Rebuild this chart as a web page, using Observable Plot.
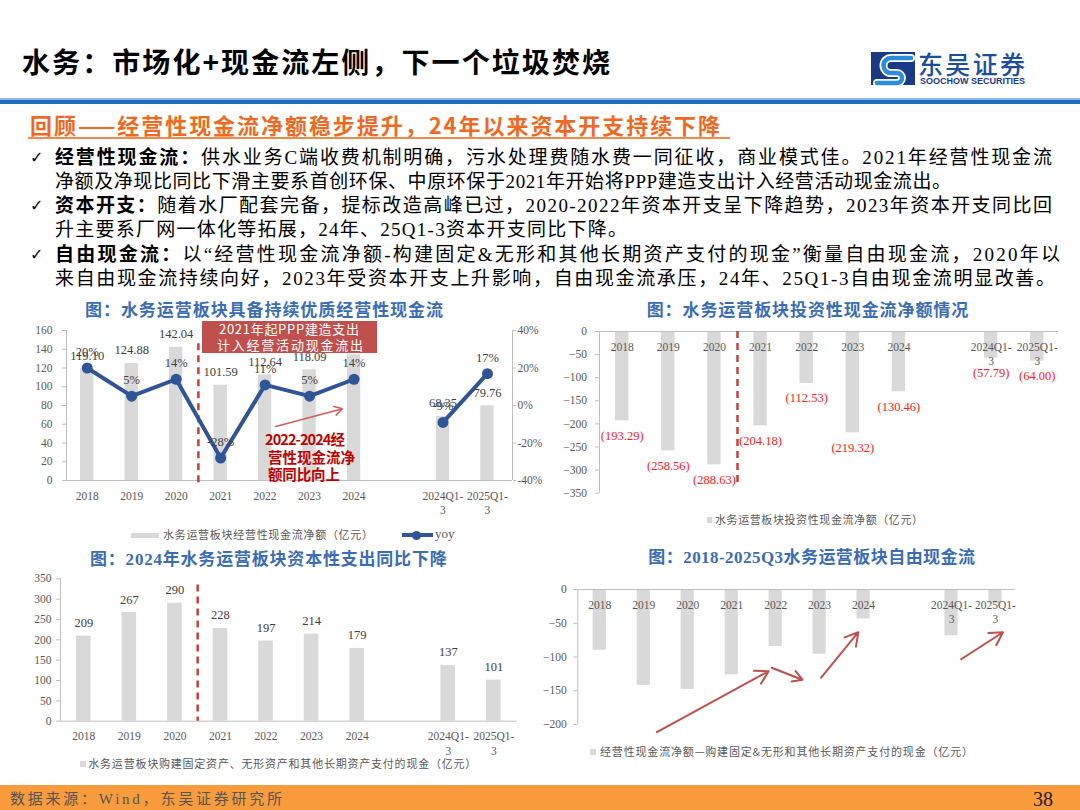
<!DOCTYPE html>
<html><head><meta charset="utf-8">
<script src="https://cdn.jsdelivr.net/npm/d3@7"></script>
<script src="https://cdn.jsdelivr.net/npm/@observablehq/plot@0.6"></script>
<style>
body{margin:0;background:#fff}
#slide{position:relative;width:1080px;height:810px;overflow:hidden;background:#fff;font-family:"Liberation Serif","Noto Sans CJK SC",serif}
.abs{position:absolute;white-space:nowrap;left:0;top:0;line-height:1.2}
.chart{position:absolute}
.chart svg{overflow:visible}
</style></head><body><div id="slide"></div>
<script>
// ---------- data ----------
const categories = ["2018","2019","2020","2021","2022","2023","2024","","2024Q1-3","2025Q1-3"];
const splitAfter = "2020";
const operatingCF = [119.10,124.88,142.04,101.59,112.64,118.09,134.20,null,68.35,79.76];
const operatingYoY = [20,5,14,-28,11,5,14,null,-9,17];
const investingCF = [-193.29,-258.56,-288.63,-204.18,-112.53,-219.32,-130.46,null,-57.79,-64.00];
const capex = [209,267,290,228,197,214,179,null,137,101];
const freeCF = [-89.9,-142.1,-148.0,-126.4,-84.4,-95.9,-43.5,null,-68.4,-21.2];

const cfTicks1 = [0,20,40,60,80,100,120,140,160];
const pctTicks1 = [-40,-20,0,20,40];
const icfTicks = [0,-50,-100,-150,-200,-250,-300,-350];
const capexTicks = [0,50,100,150,200,250,300,350];
const fcfTicks = [0,-50,-100,-150,-200];

// annotation arrows (category index, value)
const trendArrow1 = [{x1:4.24,y1:57.6,x2:5.74,y2:76.5}];
const fcfArrows = [
  {x1:1.30,y1:-211.4,x2:3.84,y2:-121.0},
  {x1:3.91,y1:-115.9,x2:4.61,y2:-133.7},
  {x1:5.03,y1:-130.8,x2:5.88,y2:-63.3},
  {x1:8.22,y1:-103.3,x2:9.17,y2:-63.3}
];

// ---------- helpers ----------
const slide = document.getElementById("slide");
function fitText(html,{x,y,w,size,weight=400,color="#000",family,anchor="start"}){
  const el=document.createElement("div");
  el.className="abs";
  el.style.fontSize=size+"px";el.style.fontWeight=weight;el.style.color=color;
  if(family) el.style.fontFamily=family;
  el.innerHTML=html;
  slide.appendChild(el);
  const n=Array.from(el.textContent).length;
  const nat=el.getBoundingClientRect().width;
  if(w&&n>1){el.style.letterSpacing=((w-nat)/(n-1))+"px";}
  const h=el.getBoundingClientRect().height;
  const width=w||nat;
  el.style.left=(anchor==="middle"?x-width/2:x)+"px";
  el.style.top=(y-h/2)+"px";
  return el;
}
function box(x,y,w,h,bg,extra=""){
  const d=document.createElement("div");
  d.style.cssText=`position:absolute;left:${x}px;top:${y}px;width:${w}px;height:${h}px;background:${bg};${extra}`;
  slide.appendChild(d);return d;
}
function place(svg,x,y){
  const d=document.createElement("div");d.className="chart";
  d.style.left=x+"px";d.style.top=y+"px";d.appendChild(svg);slide.appendChild(d);
}
const rowsOf = vals => categories.map((c,i)=>({i,c,label:c.replace("Q1-3","Q1-\n3"),v:vals[i]}));
const split = categories.indexOf(splitAfter)+0.5;
const serif = '"Liberation Serif",serif';
const cjk = '"Noto Sans CJK SC",sans-serif';
const mixed = '"Liberation Serif","Noto Sans CJK SC",serif';
const axisGray="#bfbfbf", tickText="#595959", barGray="#d9d9d9";
const baseStyle={fontFamily:serif,fontSize:"11.5px",color:tickText,background:"transparent",overflow:"visible"};
const xLabels = rows => Plot.text(rows.filter(d=>d.c),{x:"i",y:0,text:"label",lineAnchor:"top",dy:9,fontSize:11.5,fill:tickText,lineHeight:1.25});

// ---------- header ----------
fitText("水务：市场化+现金流左侧，下一个垃圾焚烧",{x:22,y:62,w:588,size:28,weight:700,color:"#000",family:cjk});
// logo
const logo=document.createElement("div");
logo.style.cssText="position:absolute;left:871px;top:52px;width:46px;height:34px";
logo.innerHTML=`<svg width="46" height="34" viewBox="0 0 46 34">
<rect x="0" y="0" width="44" height="33" fill="#1b3a86"/>
<path d="M40 6 L20 6 A7.5 7.5 0 0 0 20 21 L26 21 A5 5 0 0 1 26 31 L6 31" fill="none" stroke="#fff" stroke-width="8" stroke-linecap="round"/>
<path d="M40 6 L20 6 A7.5 7.5 0 0 0 20 21 L26 21 A5 5 0 0 1 26 31 L6 31" fill="none" stroke="#2b8ddb" stroke-width="4.5" stroke-linecap="round"/>
</svg>`;
slide.appendChild(logo);
fitText("东吴证券",{x:918,y:63,w:107,size:25,weight:500,color:"#1b4f9c",family:cjk});
fitText("SOOCHOW SECURITIES",{x:920,y:81.5,w:105,size:9,weight:700,color:"#1b3a86",family:'"Liberation Sans",sans-serif'});
box(0,98,1080,2,"#8dbbe6");
box(0,100,1080,4,"#1f6fc0");

// subtitle
fitText("回顾——经营性现金流净额稳步提升，24年以来资本开支持续下降",{x:30,y:124,w:692,size:22,weight:700,color:"#ee6a24",family:cjk});
box(28,137,702,1.5,"#f08a4b");

// bullets
const bullets=[
  {y:158,w:997,chk:true,html:"<b>经营性现金流：</b>供水业务C端收费机制明确，污水处理费随水费一同征收，商业模式佳。2021年经营性现金流"},
  {y:182,w:896,html:"净额及净现比同比下滑主要系首创环保、中原环保于2021年开始将PPP建造支出计入经营活动现金流出。"},
  {y:206,w:997,chk:true,html:"<b>资本开支：</b>随着水厂配套完备，提标改造高峰已过，2020-2022年资本开支呈下降趋势，2023年资本开支同比回"},
  {y:230.5,w:572,html:"升主要系厂网一体化等拓展，24年、25Q1-3资本开支同比下降。"},
  {y:255,w:1005,chk:true,html:"<b>自由现金流：</b>以“经营性现金流净额-构建固定&amp;无形和其他长期资产支付的现金”衡量自由现金流，2020年以"},
  {y:279,w:1000,html:"来自由现金流持续向好，2023年受资本开支上升影响，自由现金流承压，24年、25Q1-3自由现金流明显改善。"}
];
bullets.forEach(b=>{
  if(b.chk) fitText("✓",{x:30,y:b.y,size:16,weight:700,color:"#000",family:'"DejaVu Sans",sans-serif'});
  fitText(b.html,{x:55,y:b.y,w:b.w,size:19,color:"#000",family:mixed});
});

// ---------- chart 1 ----------
fitText("图：水务运营板块具备持续优质经营性现金流",{x:85,y:311.5,w:358,size:17,weight:700,color:"#3a6db5",family:mixed});
{
  const rows=categories.map((c,i)=>({i,c,label:c.replace("Q1-3","Q1-\n3"),v:operatingCF[i],p:operatingYoY[i]}));
  const cfDom=[0,160], pctDom=[-40,40];
  const toLeft=p=>p==null?NaN:(p-pctDom[0])/(pctDom[1]-pctDom[0])*(cfDom[1]-cfDom[0])+cfDom[0];
  const fromLeft=v=>(v-cfDom[0])/(cfDom[1]-cfDom[0])*(pctDom[1]-pctDom[0])+pctDom[0];
  const xDom=[-0.466,9.563];
  const bars=rows.filter(d=>d.v!=null), pts=rows.filter(d=>d.p!=null);
  const svg=Plot.plot({
    width:500,height:200,marginLeft:36,marginRight:18,marginTop:10,marginBottom:40,
    style:baseStyle,
    x:{type:"linear",domain:xDom,axis:null},
    y:{domain:cfDom},
    marks:[
      Plot.ruleY([0],{stroke:axisGray}),
      Plot.ruleX([xDom[0],xDom[1]],{stroke:axisGray}),
      Plot.axisY({ticks:cfTicks1,tickSize:4,tickPadding:10,stroke:axisGray,fill:tickText,label:null}),
      Plot.axisY({anchor:"right",ticks:pctTicks1.map(toLeft),tickFormat:v=>Math.round(fromLeft(v))+"%",tickSize:3,tickPadding:2,stroke:axisGray,fill:tickText,label:null}),
      Plot.rectY(bars,{x1:d=>d.i-0.15,x2:d=>d.i+0.15,y1:0,y2:"v",fill:barGray}),
      Plot.text(bars,{x:"i",y:"v",text:d=>d.v.toFixed(2),dy:-13,fontSize:12.5,fill:"#404040"}),
      Plot.ruleX([split],{y1:146,y2:-7.5,stroke:"#c9403a",strokeWidth:2.5,strokeDasharray:"7,5"}),
      Plot.line(rows,{x:"i",y:d=>toLeft(d.p),stroke:"#2f5597",strokeWidth:4}),
      Plot.dot(pts,{x:"i",y:d=>toLeft(d.p),r:5.5,fill:"#2f5597"}),
      Plot.text(pts,{x:"i",y:d=>toLeft(d.p),text:d=>d.p+"%",dy:-16,fontSize:12.5,fill:"#404040"}),
      xLabels(rows),
      Plot.arrow(trendArrow1,{x1:"x1",y1:"y1",x2:"x2",y2:"y2",stroke:"#d0605c",strokeWidth:1.5,headLength:9})
    ]
  });
  place(svg,30,320);
  box(201.7,320.7,175,32,"#c0504d");
  fitText("2021年起PPP建造支出",{x:289,y:328.5,w:140,size:13,color:"#fff",family:cjk,anchor:"middle"});
  fitText("计入经营活动现金流出",{x:290,y:345,w:146,size:13,color:"#fff",family:cjk,anchor:"middle"});
  fitText("2022-2024经",{x:265,y:438.3,w:80,size:14.5,weight:700,color:"#c00000",family:cjk});
  fitText("营性现金流净",{x:268,y:456.7,w:87,size:14.5,weight:700,color:"#c00000",family:cjk});
  fitText("额同比向上",{x:268,y:474,w:72,size:14.5,weight:700,color:"#c00000",family:cjk});
  // legend
  box(131,532.5,28,5,barGray);
  fitText("水务运营板块经营性现金流净额（亿元）",{x:163,y:535,w:210,size:11,color:tickText,family:cjk});
  box(401.7,533,31.6,4,"#2f5597");
  box(412.2,530.5,9,9,"#2f5597","border-radius:50%");
  fitText("yoy",{x:435,y:534,size:13,color:tickText,family:serif});
}

// ---------- chart 2 ----------
fitText("图：水务运营板块投资性现金流净额情况",{x:646.7,y:311.5,w:321.6,size:17,weight:700,color:"#3a6db5",family:mixed});
{
  const rows=rowsOf(investingCF), bars=rows.filter(d=>d.v!=null);
  const xDom=[-0.492,9.46];
  const svg=Plot.plot({
    width:510,height:190,marginLeft:39,marginRight:12,marginTop:11,marginBottom:17.3,
    style:baseStyle,
    x:{type:"linear",domain:xDom,axis:null},
    y:{domain:[-350,0]},
    marks:[
      Plot.ruleX([xDom[0]],{stroke:axisGray}),
      Plot.axisY({ticks:icfTicks,tickSize:4,tickPadding:8.5,stroke:axisGray,fill:tickText,label:null}),
      Plot.rectY(bars,{x1:d=>d.i-0.145,x2:d=>d.i+0.145,y1:0,y2:"v",fill:barGray}),
      Plot.ruleY([0],{stroke:axisGray}),
      Plot.text(bars,{x:"i",y:"v",text:d=>`(${Math.abs(d.v).toFixed(2)})`,dy:15,fontSize:12.5,fill:"#ff1a1a"}),
      Plot.ruleX([split],{y1:0,y2:-329,stroke:"#c9403a",strokeWidth:2.5,strokeDasharray:"7,5"}),
      xLabels(rows)
    ]
  });
  place(svg,560,320);
  box(706.7,517,5.5,5.5,barGray);
  fitText("水务运营板块投资性现金流净额（亿元）",{x:715,y:520,w:208,size:11,color:tickText,family:cjk});
}

// ---------- chart 3 ----------
fitText("图：2024年水务运营板块资本性支出同比下降",{x:90,y:560,w:356.7,size:17,weight:700,color:"#3a6db5",family:mixed});
{
  const rows=rowsOf(capex), bars=rows.filter(d=>d.v!=null);
  const xDom=[-0.511,9.513];
  const svg=Plot.plot({
    width:510,height:190,marginLeft:40,marginRight:13.3,marginTop:8.3,marginBottom:39.3,
    style:baseStyle,
    x:{type:"linear",domain:xDom,axis:null},
    y:{domain:[0,350]},
    marks:[
      Plot.ruleY([0],{stroke:axisGray}),
      Plot.ruleX([xDom[0]],{stroke:axisGray}),
      Plot.axisY({ticks:capexTicks,tickSize:4,tickPadding:5,stroke:axisGray,fill:tickText,label:null}),
      Plot.rectY(bars,{x1:d=>d.i-0.16,x2:d=>d.i+0.16,y1:0,y2:"v",fill:barGray}),
      Plot.text(bars,{x:"i",y:"v",text:d=>String(d.v),dy:-13,fontSize:12.5,fill:"#404040"}),
      Plot.ruleX([split],{y1:335,y2:0,stroke:"#c9403a",strokeWidth:2.5,strokeDasharray:"7,5"}),
      xLabels(rows)
    ]
  });
  place(svg,20,570);
  box(80,761,5.5,5.5,barGray);
  fitText("水务运营板块购建固定资产、无形资产和其他长期资产支付的现金（亿元）",{x:88.3,y:764,w:388,size:11,color:tickText,family:cjk});
}

// ---------- chart 4 ----------
fitText("图：2018-2025Q3水务运营板块自由现金流",{x:648.3,y:558,w:326.7,size:17,weight:700,color:"#3a6db5",family:mixed});
{
  const rows=rowsOf(freeCF), bars=rows.filter(d=>d.v!=null);
  const xDom=[-0.5,9.455];
  const svg=Plot.plot({
    width:490,height:160,marginLeft:37.3,marginRight:15,marginTop:9,marginBottom:16,
    style:baseStyle,
    x:{type:"linear",domain:xDom,axis:null},
    y:{domain:[-200,0]},
    marks:[
      Plot.ruleX([xDom[0]],{stroke:axisGray}),
      Plot.axisY({ticks:fcfTicks,tickSize:4,tickPadding:7,stroke:axisGray,fill:tickText,label:null}),
      Plot.rectY(bars,{x1:d=>d.i-0.15,x2:d=>d.i+0.15,y1:0,y2:"v",fill:barGray}),
      Plot.ruleY([0],{stroke:axisGray}),
      xLabels(rows),
      Plot.arrow(fcfArrows,{x1:"x1",y1:"y1",x2:"x2",y2:"y2",stroke:"#c0504d",strokeWidth:2,headLength:11})
    ]
  });
  place(svg,540,580);
  box(590,749,5.5,5.5,barGray);
  fitText("经营性现金流净额—购建固定&amp;无形和其他长期资产支付的现金（亿元）",{x:600,y:751.7,w:373,size:11,color:tickText,family:cjk});
}

// ---------- footer ----------
box(0,785,1080,25,"#f89b3c");
fitText("数据来源：Wind，东吴证券研究所",{x:10,y:798.5,w:272,size:15,color:"#555",family:mixed});
fitText("38",{x:1033,y:799,size:20,color:"#222",family:serif});
</script></body></html>
